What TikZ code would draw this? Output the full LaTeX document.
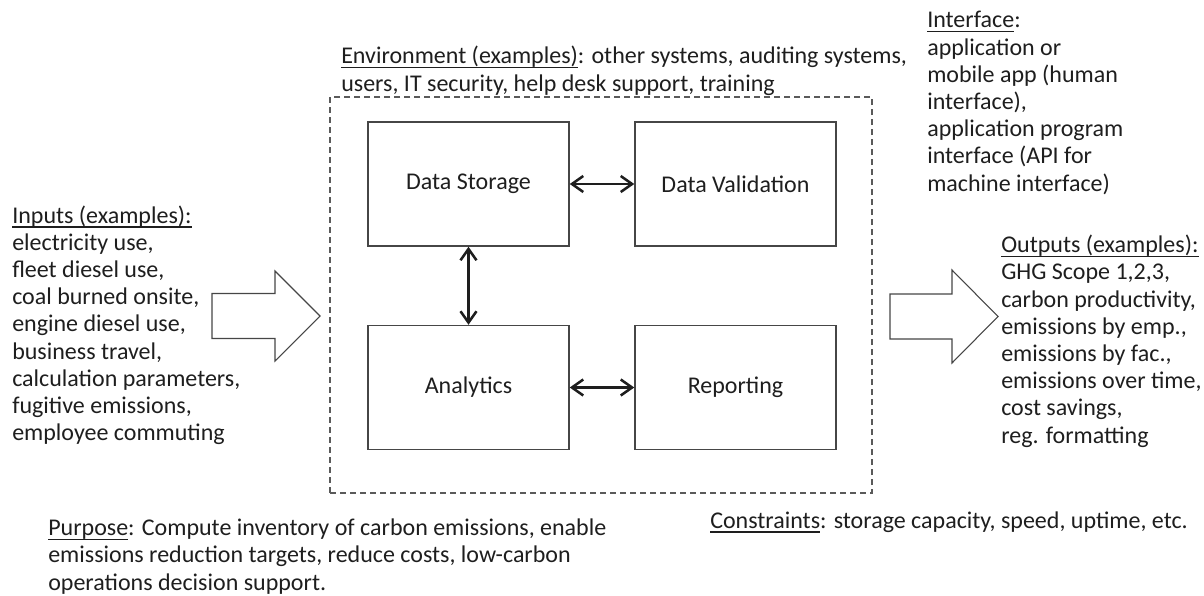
\documentclass[tikz,border=0pt]{standalone}
\usepackage{fontspec}
\setmainfont{Carlito}
\usetikzlibrary{arrows.meta}
\definecolor{ink}{RGB}{30,30,30}
\definecolor{frame}{RGB}{70,70,70}
\definecolor{dashgray}{RGB}{90,90,90}
% underline at a fixed distance below the baseline
\newcommand{\uln}[1]{\setbox0\hbox{#1}\rlap{\lower3.4pt\hbox{\vrule width\wd0 height0.8pt depth0pt}}\box0}
\tikzset{
  txtfont/.style={font=\fontsize{18pt}{20.4pt}\selectfont, text=ink},
  txt/.style={txtfont, align=left, inner sep=0pt},
  modbox/.style={txtfont, draw=frame, line width=1.1pt, minimum width=150.75pt, minimum height=93pt, inner sep=0pt},
  envbox/.style={draw=dashgray, line width=0.9pt, dash pattern=on 4.5pt off 3pt, minimum width=406.5pt, minimum height=297pt, inner sep=0pt},
  link/.style={draw=ink, line width=1.9pt, {Straight Barb[length=8.5pt,width=12pt]}-{Straight Barb[length=8.5pt,width=12pt]}},
  flowarrow/.style={draw=frame, line width=0.8pt, fill=white},
}
\begin{document}
\begin{tikzpicture}[x=0.75pt, y=-0.75pt]
\useasboundingbox (0,0) rectangle (1204,596);

% system boundary
\node[envbox] (env) at (601,295) {};

% system components
\node[modbox] (ds) at (468.5,184) {Data Storage};
\node[modbox] (dv) at (735.5,184) {Data Validation};
\node[modbox] (an) at (468.5,387.5) {Analytics};
\node[modbox] (rp) at (735.5,387.5) {Reporting};

\draw[link] (ds.east) -- (dv.west);
\draw[link] (ds.south) -- (an.north);
\draw[link] (an.east) -- (rp.west);

% input and output block arrows
\draw[flowarrow] (212,293.5) -- (275,293.5) -- (275,271) -- (320,316) -- (275,361) -- (275,338.5) -- (212,338.5) -- cycle;
\draw[flowarrow] (890,294) -- (952,294) -- (952,270) -- (998,316.5) -- (952,363) -- (952,339) -- (890,339) -- cycle;

% descriptive texts (anchored at the baseline of their last line)
\node[txt, anchor=base west] (inputs) at (12,440.6) {\uln{Inputs (examples):}\\electricity use,\\fleet diesel use,\\coal burned onsite,\\engine diesel use,\\business travel,\\calculation parameters,\\fugitive emissions,\\employee commuting};

\node[txt, anchor=base west] (envtext) at (341,91) {\uln{Environment (examples)}: other systems, auditing systems,\\users, IT security, help desk support, training};

\node[txt, anchor=base west] (iface) at (927,191) {\uln{Interface}:\\application or\\mobile app (human\\interface),\\application program\\interface (API for\\machine interface)};

\node[txt, anchor=base west] (outputs) at (1001,443) {\uln{Outputs (examples):}\\GHG Scope 1,2,3,\\carbon productivity,\\emissions by emp.,\\emissions by fac.,\\emissions over time,\\cost savings,\\reg. formatting};

\node[txt, anchor=base west] (purpose) at (48,590) {\uln{Purpose}: Compute inventory of carbon emissions, enable\\emissions reduction targets, reduce costs, low-carbon\\operations decision support.};

\node[txt, anchor=base east] (constr) at (1188,528) {\uln{Constraints}: storage capacity, speed, uptime, etc.};
\end{tikzpicture}
\end{document}
